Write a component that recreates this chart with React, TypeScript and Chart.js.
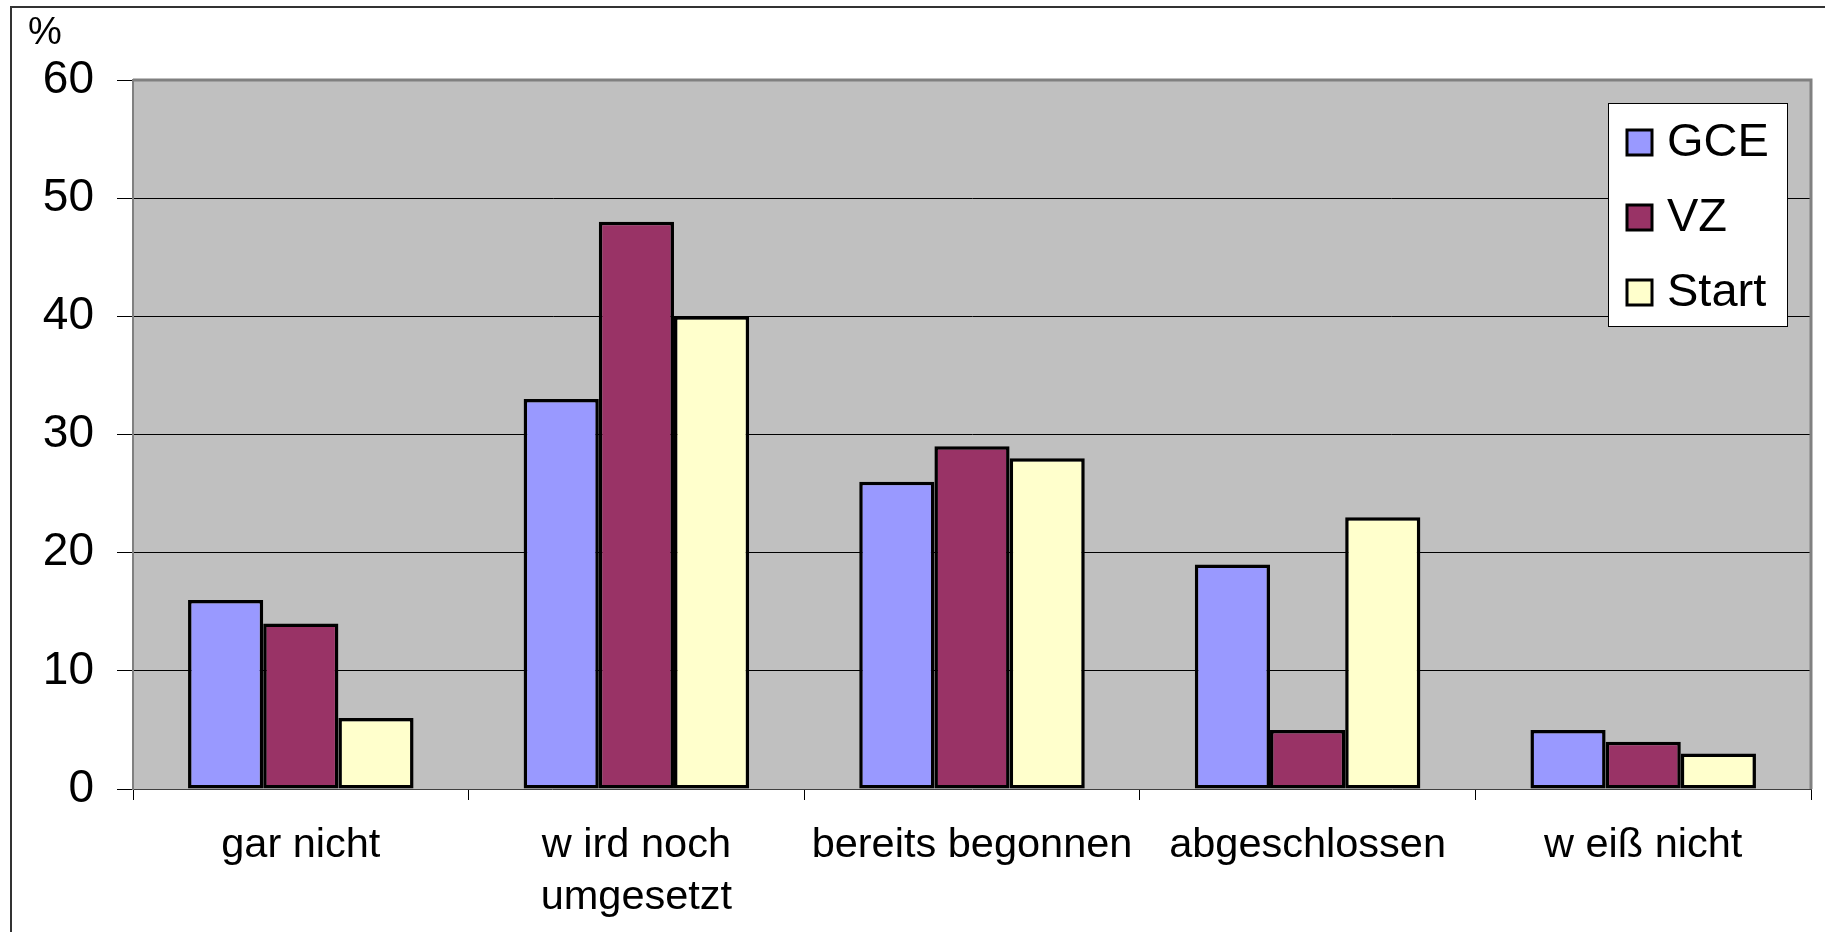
import React, { useEffect, useRef } from "react";
import { Chart, registerables } from "chart.js";

Chart.register(...registerables);

// ---- data ----
const categories: (string | string[])[] = [
  "gar nicht",
  ["w ird noch", "umgesetzt"],
  "bereits begonnen",
  "abgeschlossen",
  "w eiß nicht",
];
const seriesNames = ["GCE", "VZ", "Start"];
const gceValues = [16, 33, 26, 19, 5];
const vzValues = [14, 48, 29, 5, 4];
const startValues = [6, 40, 28, 23, 3];
const seriesColors = ["#9999FF", "#993366", "#FFFFCC"];
const yMin = 0;
const yMax = 60;
const yStep = 10;
const yUnit = "%";

const FONT = "'Liberation Sans', Arial, sans-serif";

const plotBackground = {
  id: "plotBackground",
  beforeDraw(chart: any) {
    const { ctx, chartArea: a } = chart;
    ctx.save();
    ctx.fillStyle = "#C0C0C0";
    ctx.fillRect(a.left, a.top, a.right - a.left, a.bottom - a.top);
    ctx.restore();
  },
};

const plotBorder = {
  id: "plotBorder",
  afterDatasetsDraw(chart: any) {
    const { ctx, chartArea: a } = chart;
    ctx.save();
    ctx.strokeStyle = "#808080";
    ctx.lineWidth = 3;
    ctx.beginPath();
    ctx.moveTo(a.left, a.top);
    ctx.lineTo(a.right, a.top);
    ctx.lineTo(a.right, a.bottom);
    ctx.stroke();
    ctx.restore();
  },
};

const unitLabel = {
  id: "unitLabel",
  afterDraw(chart: any) {
    const { ctx } = chart;
    ctx.save();
    ctx.fillStyle = "#000";
    ctx.font = `38px ${FONT}`;
    ctx.textAlign = "left";
    ctx.textBaseline = "alphabetic";
    ctx.fillText(yUnit, 28, 44);
    ctx.restore();
  },
};

const boxLegend = {
  id: "boxLegend",
  afterDraw(chart: any) {
    const { ctx } = chart;
    const x0 = 1608.5, y0 = 103.5, w = 179, h = 223;
    ctx.save();
    ctx.fillStyle = "#FFFFFF";
    ctx.fillRect(x0, y0, w, h);
    ctx.strokeStyle = "#000";
    ctx.lineWidth = 1;
    ctx.strokeRect(x0, y0, w, h);
    const datasets = chart.data.datasets;
    const centers = [142.5, 217.5, 292.5];
    datasets.forEach((ds: any, i: number) => {
      const cy = centers[i];
      ctx.fillStyle = ds.backgroundColor;
      ctx.fillRect(1627, cy - 12.5, 25, 25);
      ctx.strokeStyle = "#000";
      ctx.lineWidth = 3;
      ctx.strokeRect(1627, cy - 12.5, 25, 25);
      ctx.fillStyle = "#000";
      ctx.font = `47px ${FONT}`;
      ctx.textAlign = "left";
      ctx.textBaseline = "middle";
      ctx.fillText(ds.label, 1667, cy + 1);
    });
    ctx.restore();
  },
};

export default function App() {
  const ref = useRef<HTMLCanvasElement | null>(null);

  useEffect(() => {
    if (!ref.current) return;
    const values = [gceValues, vzValues, startValues];
    const chart = new Chart(ref.current, {
      type: "bar",
      data: {
        labels: categories,
        datasets: seriesNames.map((name, i) => ({
          label: name,
          data: values[i],
          backgroundColor: seriesColors[i],
          borderColor: "#000000",
          borderWidth: 3.5,
          borderSkipped: false,
          categoryPercentage: 0.672,
          barPercentage: 1,
        })),
      },
      options: {
        responsive: false,
        animation: false,
        devicePixelRatio: 1,
        layout: { padding: { top: 80, right: 14, left: 0, bottom: 0 } },
        plugins: {
          legend: { display: false },
          tooltip: { enabled: false },
        },
        scales: {
          x: {
            grid: {
              display: true,
              drawOnChartArea: false,
              tickLength: 11,
              tickColor: "#000",
              color: "#000",
              offset: true,
            },
            border: { color: "#404040", width: 1 },
            ticks: {
              color: "#000",
              font: { family: FONT, size: 41.5, lineHeight: 1.26 },
              padding: 19,
              maxRotation: 0,
              autoSkip: false,
            },
            afterFit(scale: any) {
              scale.height = 143;
            },
          },
          y: {
            min: yMin,
            max: yMax,
            grid: {
              color: (c: any) =>
                c.tick && (c.tick.value === yMax || c.tick.value === yMin) ? "rgba(0,0,0,0)" : "#000",
              tickColor: "#000",
              tickLength: 16,
              lineWidth: 1,
            },
            border: { color: "#808080", width: 2 },
            ticks: {
              stepSize: yStep,
              color: "#000",
              font: { family: FONT, size: 46 },
              padding: 23,
            },
            afterFit(scale: any) {
              scale.width = 133;
            },
          },
        },
      },
      plugins: [plotBackground, plotBorder, unitLabel, boxLegend],
    });
    return () => chart.destroy();
  }, []);

  return (
    <div style={{ position: "fixed", left: 0, top: 0, width: 1825, height: 932, background: "#fff", overflow: "hidden" }}>
      <div
        style={{
          position: "absolute",
          left: 10,
          top: 6,
          width: 2000,
          height: 1000,
          borderLeft: "2px solid #333",
          borderTop: "2px solid #333",
        }}
      />
      <canvas
        ref={ref}
        width={1825}
        height={932}
        style={{ position: "absolute", left: 0, top: 0, width: 1825, height: 932 }}
      />
    </div>
  );
}
